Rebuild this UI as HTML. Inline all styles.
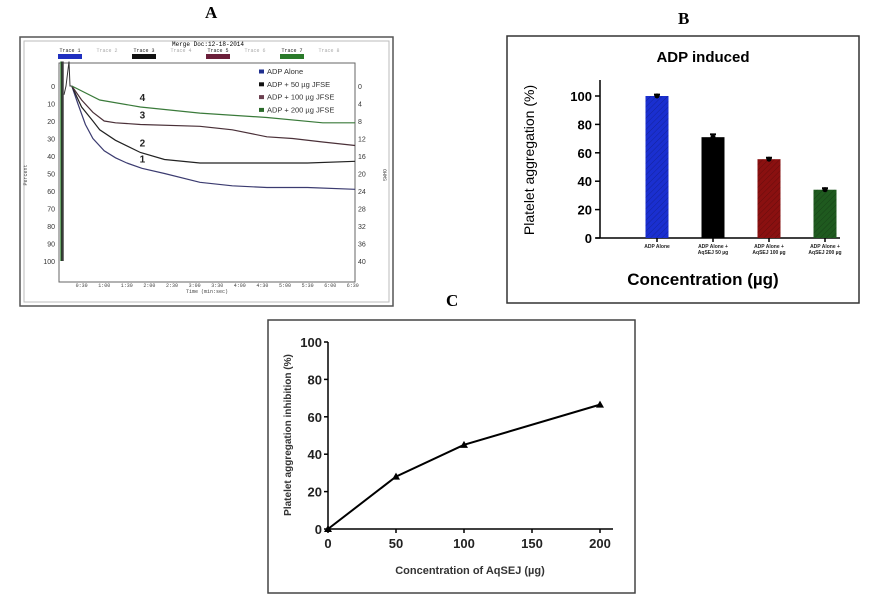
<!DOCTYPE html>
<html><head><meta charset="utf-8">
<style>
html,body{margin:0;padding:0;background:#fff;}
svg{display:block;font-family:"Liberation Sans",sans-serif;}
</style></head>
<body>
<svg id="fig" width="871" height="611" viewBox="0 0 871 611" xmlns="http://www.w3.org/2000/svg">
<defs>
<pattern id="hatch" width="4" height="4" patternUnits="userSpaceOnUse" patternTransform="rotate(45)">
<line x1="0" y1="0" x2="0" y2="4" stroke="rgba(0,0,0,0.25)" stroke-width="1"/>
</pattern>
</defs>
<text x="205" y="18" font-size="17" font-weight="bold" font-family="Liberation Serif,serif">A</text>
<text x="678" y="24" font-size="17" font-weight="bold" font-family="Liberation Serif,serif">B</text>
<text x="446" y="306" font-size="17" font-weight="bold" font-family="Liberation Serif,serif">C</text>

<g id="panelA">
<rect x="20" y="37" width="373" height="269" fill="#fff" stroke="#555" stroke-width="1.5"/>
<rect x="24" y="41" width="365" height="261" fill="none" stroke="#bbb" stroke-width="1"/>
<text x="208" y="46" font-size="6" text-anchor="middle" font-family="Liberation Mono,monospace">Merge Doc:12-18-2014</text>
</g>

<g id="panelB">
<rect x="507" y="36" width="352" height="267" fill="#fff" stroke="#333" stroke-width="1.5"/>
<text x="703" y="62" font-size="15" font-weight="bold" text-anchor="middle">ADP induced</text>
<text x="703" y="285" font-size="17" font-weight="bold" text-anchor="middle">Concentration (µg)</text>
<text transform="translate(534,160) rotate(-90)" font-size="14" text-anchor="middle">Platelet aggregation (%)</text>
</g>

<g id="panelC">
<rect x="268" y="320" width="367" height="273" fill="#fff" stroke="#444" stroke-width="1.5"/>
<text x="470" y="574" font-size="11" font-weight="bold" fill="#333" text-anchor="middle">Concentration of AqSEJ (µg)</text>
<text transform="translate(291,435) rotate(-90)" font-size="10" font-weight="bold" fill="#333" text-anchor="middle">Platelet aggregation inhibition (%)</text>
</g>
</svg>
<script>
// ---------- Panel A data ----------
const traceNames = ["ADP Alone","ADP + 50 µg JFSE","ADP + 100 µg JFSE","ADP + 200 µg JFSE"];
const traceNums = ["1","2","3","4"];
const t1 = [17,25,35,45,60,75,90,110,140,187,230,276,330,393];
const v1 = [0,10,22,30,37,41,44,47,50,55,57,58,58,59];
const t2 = [17,30,45,54,75,108,140,187,250,330,393];
const v2 = [0,12,20,25,31,38,42,44,44,44,43];
const t3 = [17,30,45,60,75,108,187,230,276,310,350,393];
const v3 = [0,8,15,20,21,22,23,25,29,30,32,34];
const t4 = [17,54,108,187,276,350,393];
const v4 = [0,8,12,15.5,18,21,21];
const pctTicks = [0,10,20,30,40,50,60,70,80,90,100];
const rightTicks = [0,4,8,12,16,20,24,28,32,36,40];
const timeTicks = ["0:30","1:00","1:30","2:00","2:30","3:00","3:30","4:00","4:30","5:00","5:30","6:00","6:30"];
const traceTabs = ["Trace 1","Trace 2","Trace 3","Trace 4","Trace 5","Trace 6","Trace 7","Trace 8"];

// ---------- Panel B data ----------
const barCats = [["ADP Alone"],["ADP Alone +","AqSEJ 50 µg"],["ADP Alone +","AqSEJ 100 µg"],["ADP Alone +","AqSEJ 200 µg"]];
const barVals = [100,71,55.5,34];
const barErr = [1,2,1,1];
const barTicks = [0,20,40,60,80,100];

// ---------- Panel C data ----------
const concX = [0,50,100,200];
const inhibY = [0,28,45,66.5];
const cXTicks = [0,50,100,150,200];
const cYTicks = [0,20,40,60,80,100];

const NS="http://www.w3.org/2000/svg";
function mk(tag, attrs, parent, txt){const e=document.createElementNS(NS,tag);for(const k in attrs)e.setAttribute(k,attrs[k]);if(txt!==undefined)e.textContent=txt;parent.appendChild(e);return e;}

// ===== Panel A =====
(function(){
const g=document.getElementById('panelA');
const L=59,R=355,T=63,B=282;
const xA=t=>L+(t/30)*22.6;
const yA=v=>86+v*1.75;
const tabColors=["#1f2fbf",null,"#111",null,"#6b1f3a",null,"#2a7a2a",null];
traceTabs.forEach((s,i)=>{
  const x=70+i*37;
  const t=mk('text',{x:x,y:52,'font-size':5,'font-family':'Liberation Mono,monospace','fill':tabColors[i]?'#222':'#aaa','text-anchor':'middle'},g,s);
  
  
  if(tabColors[i]){const r=mk('rect',{x:x-12,y:54,width:24,height:5,fill:tabColors[i]},g);
    
    }
});
const plot=mk('rect',{x:L,y:T,width:R-L,height:B-T,fill:'#fff',stroke:'#666','stroke-width':1},g);


pctTicks.forEach(v=>{const t=mk('text',{x:55,y:yA(v)+3,'font-size':7,'text-anchor':'end',fill:'#333'},g,String(v));
  
  });
rightTicks.forEach((v,i)=>{const t=mk('text',{x:358,y:yA(pctTicks[i])+3,'font-size':7,fill:'#333'},g,String(v));
  
  });
timeTicks.forEach((s,i)=>{const t=mk('text',{x:xA(30*(i+1)),y:287,'font-size':5,'text-anchor':'middle','font-family':'Liberation Mono,monospace',fill:'#444'},g,s);
  
  });
let e=mk('text',{x:207,y:293,'font-size':5,'text-anchor':'middle','font-family':'Liberation Mono,monospace',fill:'#444'},g,'Time (min:sec)');


e=mk('text',{transform:'translate(27,175) rotate(-90)','font-size':5,'text-anchor':'middle','font-family':'Liberation Mono,monospace',fill:'#444'},g,'Percent');


e=mk('text',{transform:'translate(383,175) rotate(90)','font-size':5,'text-anchor':'middle','font-family':'Liberation Mono,monospace',fill:'#444'},g,'OHMS');


[[61,'#3a8a3a'],[62,'#222'],[63,'#444']].forEach(([x,c],i)=>{const l=mk('line',{x1:x,y1:yA(-14),x2:x,y2:yA(100),stroke:c,'stroke-width':1.5},g);
  
  });
e=mk('path',{d:`M64 ${yA(5)} L66 ${yA(0)} L69 ${yA(-14)} L70 ${yA(0)} L${xA(17)} ${yA(0)}`,fill:'none',stroke:'#333','stroke-width':1},g);


const series=[[t1,v1,'#3b3b70'],[t2,v2,'#222'],[t3,v3,'#4a3038'],[t4,v4,'#3a7a3a']];
series.forEach(([ts,vs,c],i)=>{
  const d=ts.map((t,j)=>(j?'L':'M')+xA(t).toFixed(1)+' '+yA(vs[j]).toFixed(1)).join(' ');
  const p=mk('path',{d:d,fill:'none',stroke:c,'stroke-width':1.2},g);
  
  
  const lx=xA(108);
  const ly=yA(i===0?47:i===1?38:i===2?22:12)-6;
  const lb=mk('text',{x:lx+2,y:ly,'font-size':10,'font-weight':'bold',fill:'#222','text-anchor':'middle'},g,traceNums[i]);
  
  
});
const legC=['#1f2f8f','#111','#6b4050','#2a6a2a'];
traceNames.forEach((n,i)=>{
  const y=73+i*12.8;
  const r=mk('rect',{x:259,y:y-3.5,width:5,height:4,fill:legC[i]},g);
  
  
  const t=mk('text',{x:267,y:y+1,'font-size':7.5,fill:'#333'},g,n);
  
  
});
})();

// ===== Panel B =====
(function(){
const g=document.getElementById('panelB');
const x0=600,y0=238,yTop=96;
const yB=v=>y0-(v/100)*(y0-yTop);
const xB=i=>657+i*56;
const colors=['#1a2fd0','#000','#8a1010','#1f5a1f'];
let e=mk('line',{x1:x0,y1:80,x2:x0,y2:y0,stroke:'#000','stroke-width':1.5},g);


e=mk('line',{x1:x0-4,y1:y0,x2:840,y2:y0,stroke:'#000','stroke-width':1.5},g);


barTicks.forEach(v=>{
  const tk=mk('line',{x1:x0-5,y1:yB(v),x2:x0,y2:yB(v),stroke:'#000','stroke-width':1.5},g);
  
  
  const t=mk('text',{x:x0-8,y:yB(v)+5,'font-size':13,'font-weight':'bold','text-anchor':'end'},g,String(v));
  
  
});
barVals.forEach((v,i)=>{
  const r=mk('rect',{x:xB(i)-11.5,y:yB(v),width:23,height:y0-yB(v),fill:colors[i]},g);
  
  
  const h=mk('rect',{x:xB(i)-11.5,y:yB(v),width:23,height:y0-yB(v),fill:'url(#hatch)'},g);
  
  
  const er=mk('path',{d:`M${xB(i)} ${yB(v+barErr[i])} L${xB(i)} ${yB(v)} M${xB(i)-3} ${yB(v+barErr[i])} L${xB(i)+3} ${yB(v+barErr[i])}`,stroke:'#000','stroke-width':2},g);
  
  
  const dot=mk('circle',{cx:xB(i),cy:yB(v),r:2.5,fill:'#000'},g);
  
  
  const tk=mk('line',{x1:xB(i),y1:y0,x2:xB(i),y2:y0+4,stroke:'#000','stroke-width':1.5},g);
  
  
  barCats[i].forEach((s,j)=>{
    const t=mk('text',{x:xB(i),y:y0+10+j*6,'font-size':5,'font-weight':'bold','text-anchor':'middle',fill:'#222'},g,s);
    
    
  });
});
})();

// ===== Panel C =====
(function(){
const g=document.getElementById('panelC');
const x0=328,x200=600,y0=529,y100=342;
const xC=v=>x0+(v/200)*(x200-x0);
const yC=v=>y0-(v/100)*(y0-y100);
let e=mk('line',{x1:x0,y1:y100,x2:x0,y2:y0,stroke:'#000','stroke-width':1.5},g);


e=mk('line',{x1:x0,y1:y0,x2:613,y2:y0,stroke:'#000','stroke-width':1.5},g);


cYTicks.forEach(v=>{
  const tk=mk('line',{x1:x0-4,y1:yC(v),x2:x0,y2:yC(v),stroke:'#000','stroke-width':1.5},g);
  
  
  const t=mk('text',{x:x0-6,y:yC(v)+5,'font-size':13,'font-weight':'bold','text-anchor':'end',fill:'#222'},g,String(v));
  
  
});
cXTicks.forEach(v=>{
  const tk=mk('line',{x1:xC(v),y1:y0,x2:xC(v),y2:y0+4,stroke:'#000','stroke-width':1.5},g);
  
  
  const t=mk('text',{x:xC(v),y:y0+19,'font-size':13,'font-weight':'bold','text-anchor':'middle',fill:'#222'},g,String(v));
  
  
});
const d=concX.map((x,i)=>(i?'L':'M')+xC(x)+' '+yC(inhibY[i])).join(' ');
e=mk('path',{d:d,fill:'none',stroke:'#000','stroke-width':2},g);


concX.forEach((x,i)=>{
  const cx=xC(x),cy=yC(inhibY[i]);
  const p=mk('path',{d:`M${cx} ${cy-4} L${cx+4} ${cy+3} L${cx-4} ${cy+3} Z`,fill:'#000'},g);
  
  
});
})();
</script>
</body></html>
